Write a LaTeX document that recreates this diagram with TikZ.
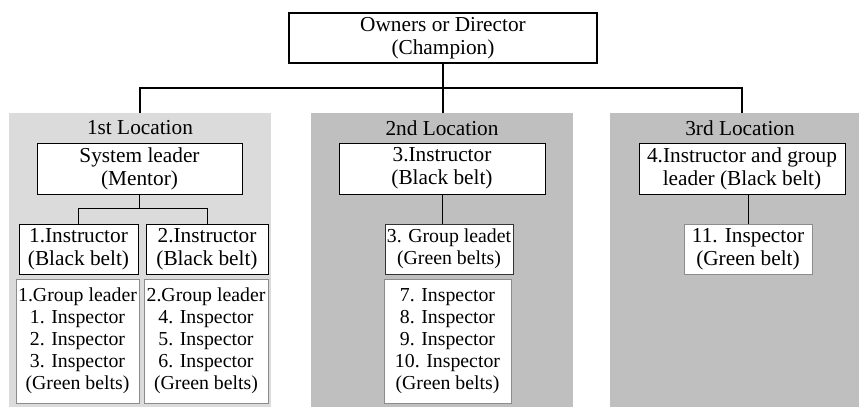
\documentclass[tikz,border=0pt]{standalone}
\usepackage{fontspec}
\setmainfont{Liberation Serif}
\begin{document}
\begin{tikzpicture}[x=1pt,y=-1pt,
  panelbox/.style={fill=#1,draw=none,inner sep=0pt},
  mainfont/.style={font=\fontsize{21.3}{23}\selectfont},
  listfont/.style={font=\fontsize{19.8}{22}\selectfont},
  headbox/.style={draw=black,line width=1.8pt,fill=white,inner sep=0pt,align=center,mainfont},
  rolebox/.style={draw=black,line width=1pt,fill=white,inner sep=0pt,align=center,mainfont},
  teambox/.style={draw=black!45,line width=0.9pt,fill=white,inner sep=0pt,align=center,listfont},
  title/.style={inner sep=0pt,mainfont},
  trunk/.style={line width=2.3pt},
  branch/.style={line width=0.9pt}]
\useasboundingbox (0,0) rectangle (859,407);

% top level
\node[headbox,minimum width=308pt,minimum height=50pt] (top) at (443,38)
  {Owners or Director\\(Champion)};

% location panels
\node[panelbox=black!14,minimum width=262pt,minimum height=294pt] (panel1) at (140,260) {};
\node[panelbox=black!25,minimum width=262pt,minimum height=294pt] (panel2) at (442,260) {};
\node[panelbox=black!25,minimum width=249pt,minimum height=294pt] (panel3) at (734.5,260) {};

\node[title] (loc1) at (140,128) {1st Location};
\node[title] (loc2) at (442,128) {2nd Location};
\node[title] (loc3) at (740,128) {3rd Location};

% first location
\node[rolebox,minimum width=205pt,minimum height=51pt] (sys) at (139.5,168.5)
  {System leader\\(Mentor)};
\node[rolebox,minimum width=119pt,minimum height=50pt] (ins1) at (78.5,249)
  {1.Instructor\\(Black belt)};
\node[rolebox,minimum width=122pt,minimum height=50pt] (ins2) at (207,249)
  {2.Instructor\\(Black belt)};
\node[teambox,minimum width=123pt,minimum height=124pt] (grp1) at (77.5,341)
  {1.Group leader\\1. Inspector\\2. Inspector\\3. Inspector\\(Green belts)};
\node[teambox,minimum width=124pt,minimum height=124pt] (grp2) at (206,341)
  {2.Group leader\\4. Inspector\\5. Inspector\\6. Inspector\\(Green belts)};

% second location
\node[rolebox,minimum width=206pt,minimum height=51pt] (ins3) at (442,168.5)
  {3.Instructor\\(Black belt)};
\node[teambox,draw=black!80,minimum width=128pt,minimum height=50pt] (grp3) at (449,249)
  {3. Group leadet\\(Green belts)};
\node[teambox,minimum width=127pt,minimum height=124pt] (team3) at (447.5,341)
  {7. Inspector\\8. Inspector\\9. Inspector\\10. Inspector\\(Green belts)};

% third location
\node[rolebox,minimum width=206pt,minimum height=51pt] (ins4) at (742,168.5)
  {4.Instructor and group\\leader (Black belt)};
\node[teambox,mainfont,minimum width=128pt,minimum height=50pt] (insp11) at (748,249)
  {11. Inspector\\(Green belt)};

% connectors from the top level to the locations
\draw[trunk] (top.south) -- ++(0,24) -| (panel1.north);
\draw[trunk] (top.south) ++(0,24) -| (ins4.center |- panel3.north);
\draw[trunk] (top.south) -- (top.south |- panel2.north);

% connectors inside the locations
\draw[branch] (sys.south) -- ++(0,14) -| (ins1.north);
\draw[branch] (sys.south) ++(0,14) -| (ins2.north);
\draw[branch] (ins3.south) -- (ins3.south |- grp3.north);
\draw[branch] (ins4.south) -- (ins4.south -| insp11.north) -- (insp11.north);
\end{tikzpicture}
\end{document}
